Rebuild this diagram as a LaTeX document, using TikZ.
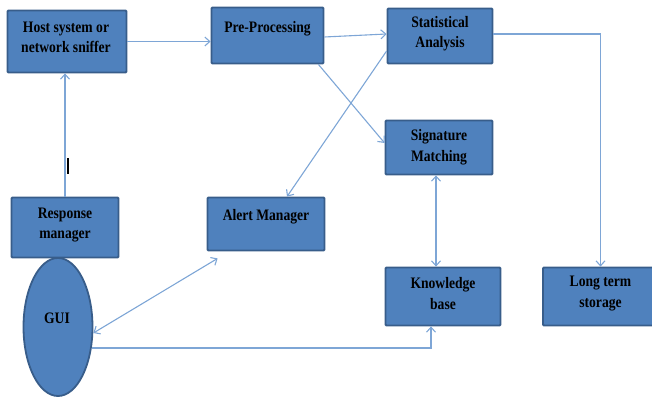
\documentclass[tikz,border=0pt]{standalone}
\usepackage{fontspec}
\setmainfont{Liberation Serif}
\newfontfamily\tallserif[FakeStretch=0.85]{Liberation Serif}
\usetikzlibrary{shapes.geometric,arrows.meta,calc}
\definecolor{boxfill}{RGB}{79,129,189}
\definecolor{boxline}{RGB}{56,93,138}
\definecolor{linec}{RGB}{126,166,214}
\begin{document}
\begin{tikzpicture}[x=1pt,y=-1pt,
  blk/.style={draw=boxline,fill=boxfill,line width=1.8pt,rounded corners=1pt,inner sep=0pt},
  lbl/.style={font=\tallserif\fontsize{16}{20.5}\selectfont\bfseries,align=center,inner sep=0pt,text=black},
  conn/.style={draw=linec,line width=1.1pt},
  tip/.style={-{Straight Barb[length=5pt,width=9pt,line width=1.1pt]}},
  tips/.style={{Straight Barb[length=5pt,width=9pt,line width=1.1pt]}-{Straight Barb[length=5pt,width=9pt,line width=1.1pt]}}]
\useasboundingbox (0,0) rectangle (652,398);
% boxes
\node[blk,minimum width=119pt,minimum height=62pt] (host) at (67,41.5) {};
\node[blk,minimum width=112pt,minimum height=56pt] (pre) at (267.5,35.5) {};
\node[blk,minimum width=105pt,minimum height=55pt] (stat) at (440,36) {};
\node[blk,minimum width=107pt,minimum height=54pt] (sig) at (439,147.5) {};
\node[blk,minimum width=107pt,minimum height=60pt] (resp) at (65,227.5) {};
\node[blk,minimum width=117pt,minimum height=53pt] (alert) at (266,224) {};
\node[blk,minimum width=115pt,minimum height=58pt] (know) at (443,296.5) {};
\node[blk,minimum width=115pt,minimum height=58pt] (long) at (600.5,296.5) {};
\node[blk,ellipse,minimum width=69pt,minimum height=138pt] (gui) at (58,327) {};
% texts
\node[lbl] (hostT) at (66,37.5) {Host system or\\network sniffer};
\node[lbl] (preT) at (267.5,29) {Pre-Processing};
\node[lbl] (statT) at (440,33.5) {Statistical\\Analysis};
\node[lbl] (sigT) at (439,147) {Signature\\Matching};
\node[lbl] (respT) at (65,225) {Response\\manager};
\node[lbl] (alertT) at (266,217) {Alert Manager};
\node[lbl] (knowT) at (443,293.5) {Knowledge\\base};
\node[lbl] (longT) at (600.5,293.5) {Long term\\storage};
\node[lbl] (guiT) at (57,318) {GUI};
% cursor mark
\coordinate (m1) at (68,158);
\coordinate (m2) at (68,174);
\draw[line width=2.4pt,black] (m1) -- (m2);
% connectors
\draw[conn,tip] (host.east) -- (pre.west |- host.east);
\draw[conn,tip] (resp.north) -- (host.south -| resp.north);
\draw[conn,tip] ($(pre.east)+(0,1.5)$) -- ($(stat.west)+(0,-2)$);
\draw[conn,tip] ($(pre.south east)+(-6,0)$) -- ($(sig.west)+(0,-4.5)$);
\draw[conn,tip] ($(stat.west)+(0,15)$) -- ($(alert.north)+(21,0)$);
\draw[conn,tip] ($(stat.east)+(0,-2)$) -| (long.north);
\draw[conn,tips] ($(sig.south)+(-3,0)$) -- ($(know.north)+(-7,0)$);
\draw[conn,tips] ($(gui.east)+(0,6)$) -- ($(alert.south west)+(11,7)$);
\draw[conn,tip] ($(gui.east)+(-1,21)$) -| ($(know.south)+(-12,0)$);
\end{tikzpicture}
\end{document}
